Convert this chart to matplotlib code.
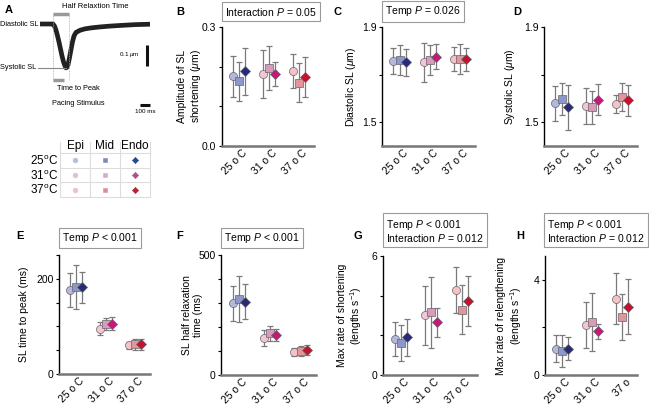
import matplotlib.pyplot as plt
import numpy as np

plt.rcParams['font.family'] = ['Liberation Sans', 'DejaVu Sans']
plt.rcParams['mathtext.fontset'] = 'custom'
plt.rcParams['mathtext.rm'] = 'Liberation Sans'
plt.rcParams['mathtext.it'] = 'Liberation Sans:italic'

temps = ['25 o C', '31 o C', '37 o C']
regions = ['Epi', 'Mid', 'Endo']

# mean and sd, rows = temperature (25, 31, 37), cols = Epi, Mid, Endo
amp_mean = [[0.176, 0.163, 0.188], [0.182, 0.197, 0.182], [0.190, 0.160, 0.174]]
amp_sd = [[0.052, 0.049, 0.060], [0.060, 0.055, 0.030], [0.043, 0.048, 0.051]]
dia_mean = [[1.757, 1.762, 1.751], [1.751, 1.760, 1.776], [1.767, 1.765, 1.765]]
dia_sd = [[0.055, 0.062, 0.058], [0.083, 0.063, 0.052], [0.050, 0.064, 0.048]]
sys_mean = [[1.580, 1.597, 1.563], [1.569, 1.563, 1.594], [1.576, 1.604, 1.593]]
sys_sd = [[0.073, 0.068, 0.094], [0.075, 0.070, 0.065], [0.039, 0.059, 0.065]]
ttp_mean = [[177, 182, 182], [95, 105, 106], [60, 62, 62]]
ttp_sd = [[36, 46, 33], [14, 13, 13], [8, 12, 11]]
half_mean = [[298, 317, 306], [155, 173, 165], [96, 101, 104]]
half_sd = [[71, 97, 73], [33, 30, 25], [15, 20, 21]]
vshort_mean = [[1.82, 1.61, 1.90], [3.01, 3.16, 2.67], [4.29, 3.29, 3.73]]
vshort_sd = [[0.85, 0.92, 0.92], [1.48, 1.78, 0.73], [1.16, 1.24, 1.28]]
vrel_mean = [[1.11, 1.00, 1.11], [2.10, 2.23, 1.83], [3.21, 2.44, 2.87]]
vrel_sd = [[0.56, 0.66, 0.49], [0.95, 1.22, 0.33], [1.07, 0.97, 1.15]]

# schematic sarcomere length transient (ms, um)
trace_t = [0, 130, 145, 160, 175, 190, 205, 220, 235, 250, 260, 270, 280, 295,
           310, 325, 340, 360, 400, 450, 520, 600, 700, 800, 950, 1100]
trace_sl = [1.800, 1.800, 1.790, 1.771, 1.744, 1.714, 1.681, 1.648, 1.620, 1.600,
            1.591, 1.594, 1.605, 1.640, 1.678, 1.715, 1.743, 1.760, 1.770, 1.777,
            1.782, 1.786, 1.790, 1.793, 1.797, 1.799]
t_stim = 130
t_half = 290

colors = [['#b4b8dc', '#8d97c9', '#262a78'],
          ['#f3c6d6', '#d99abb', '#c8167a'],
          ['#f5c2ca', '#e2959a', '#c8102e']]
legend_colors = [['#b9bdd9', '#8088b8', '#2c4a8a'],
                 ['#dcc3d3', '#d3abca', '#b05088'],
                 ['#eac2ca', '#d98f9a', '#b02838']]
markers = ['o', 's', 'D']
msizes = [5.8, 5.2, 5.2]

W, H = 649, 405
fig = plt.figure(figsize=(6.49, 4.05), dpi=100)


def rect(x0, y0, x1, y1):
    return [x0 / W, 1 - y1 / H, (x1 - x0) / W, (y1 - y0) / H]


def panel(box, mean, sd, ylim, ticks, labels, ylabel, lab_x, xlabels=temps):
    ax = fig.add_axes(rect(*box))
    mean = np.array(mean)
    sd = np.array(sd)
    for i in range(3):
        for j in range(3):
            x = i + 1 + (j - 1) * 0.2
            ax.errorbar(x, mean[i, j], yerr=sd[i, j], fmt='none',
                        ecolor='#7a7a7a', elinewidth=0.9, capsize=2.5,
                        capthick=0.9, zorder=2)
            ax.plot(x, mean[i, j], marker=markers[j], ms=msizes[j],
                    mfc=colors[i][j], mec='#666666', mew=0.5, zorder=3)
    ax.set_xlim(0.42, 3.5)
    ax.set_ylim(*ylim)
    ax.set_yticks(ticks)
    ax.set_yticklabels(labels, fontsize=7.5)
    ax.set_xticks([1.1, 2.1, 3.1])
    ax.set_xticklabels(xlabels, rotation=45, ha='right',
                       rotation_mode='anchor', fontsize=7.5)
    ax.tick_params(axis='x', length=0, pad=1.5)
    ax.tick_params(axis='y', length=2.5, width=0.8, pad=1.5)
    for s in ['top', 'right']:
        ax.spines[s].set_visible(False)
    ax.spines['left'].set_linewidth(1.0)
    ax.spines['bottom'].set_linewidth(1.8)
    ax.spines['bottom'].set_color('#777777')
    ax.set_ylabel(ylabel, fontsize=7.5, linespacing=1.15)
    ax.yaxis.set_label_coords(-lab_x, 0.5)
    return ax


panel((222, 27, 314, 146), amp_mean, amp_sd, (0, 0.3), [0, 0.1, 0.2, 0.3],
      ['0.0', '', '', '0.3'], 'Amplitude of SL\nshortening ($\\mu$m)', 0.21)
panel((382, 27, 475, 146), dia_mean, dia_sd, (1.4, 1.9), [1.5, 1.7, 1.9],
      ['1.5', '', '1.9'], 'Diastolic SL ($\\mu$m)', 0.26)
panel((544, 27, 637, 146), sys_mean, sys_sd, (1.4, 1.9), [1.5, 1.7, 1.9],
      ['1.5', '', '1.9'], 'Systolic SL ($\\mu$m)', 0.29)
panel((59, 255, 150, 374), ttp_mean, ttp_sd, (0, 250), [0, 50, 100, 150, 200, 250],
      ['0', '', '', '', '200', ''], 'SL time to peak (ms)', 0.33)
panel((221, 255, 316, 375), half_mean, half_sd, (0, 500), [0, 100, 200, 300, 400, 500],
      ['0', '', '', '', '', '500'], 'SL half relaxation\ntime (ms)', 0.19)
panel((383, 256, 477, 375), vshort_mean, vshort_sd, (0, 6), [0, 2, 4, 6],
      ['0', '', '', '6'], 'Max rate of shortening\n(lengths s$^{-1}$)', 0.20)
panel((545, 256, 637, 375), vrel_mean, vrel_sd, (0, 5), [0, 2, 4],
      ['0', '', '4'], 'Max rate of relengthening\n(lengths s$^{-1}$)', 0.23,
      xlabels=['25 o C', '31 o C', '37 o'])

# panel letters and stats boxes
for letter, x, y in [('A', 5, 10), ('B', 176, 12), ('C', 333, 12), ('D', 513, 12),
                     ('E', 16, 236), ('F', 176, 236), ('G', 353, 236), ('H', 516, 236)]:
    fig.text(x / W, 1 - y / H, letter, fontsize=8, fontweight='bold', va='center')

box_style = dict(boxstyle='square,pad=0.3', fc='white', ec='#9a9a9a', lw=0.8)
for txt, x, y in [('Interaction $P$ = 0.05', 225, 11.5),
                  ('Temp $P$ = 0.026', 385, 11.5),
                  ('Temp $P$ < 0.001', 62, 238),
                  ('Temp $P$ < 0.001', 224, 238),
                  ('Temp $P$ < 0.001\nInteraction $P$ = 0.012', 386, 231),
                  ('Temp $P$ < 0.001\nInteraction $P$ = 0.012', 547, 231)]:
    fig.text(x / W, 1 - y / H, txt, fontsize=7.5, va='center', ha='left',
             linespacing=1.0, bbox=box_style)

# panel A: schematic trace (x: ms, y: um)
axA = fig.add_axes(rect(0, 0, 160, 120))
axA.set_xlim(-400, 1200)
axA.set_ylim(1.80 - 96 / 210, 1.80 + 24 / 210)
axA.axis('off')
axA.plot(trace_t, trace_sl, color='#222222', lw=3.4, solid_capstyle='butt',
         solid_joinstyle='round')
sl_dia = trace_sl[0]
i_pk = int(np.argmin(trace_sl))
t_peak, sl_sys = trace_t[i_pk], trace_sl[i_pk]
top = sl_dia + 0.048
low = sl_sys - 0.06
axA.plot([t_stim, t_half], [top, top], color='#999999', lw=2.5, solid_capstyle='butt')
axA.plot([t_stim, t_peak - 20], [low, low], color='#999999', lw=2.5, solid_capstyle='butt')
for t in [t_stim, t_half]:
    axA.plot([t, t], [top, low], color='#aaaaaa', lw=0.6, ls=(0, (1, 1)))
axA.plot([-20, t_peak], [sl_sys, sl_sys], color='#888888', lw=0.8)
axA.text(-400, sl_dia, 'Diastolic SL', fontsize=5.3, va='center', ha='left')
axA.text(-400, sl_sys, 'Systolic SL', fontsize=5.3, va='center', ha='left')
axA.text(220, sl_dia + 0.085, 'Half Relaxtion Time', fontsize=5.5, va='center')
axA.text(170, low - 0.04, 'Time to Peak', fontsize=5.3, va='center')
axA.text(120, low - 0.11, 'Pacing Stimulus', fontsize=5.3, va='center')
# scale bars: 0.1 um and 100 ms
axA.plot([1070, 1070], [1.70, 1.60], color='#111111', lw=2.2, solid_capstyle='butt')
axA.text(1000, 1.655, '0.1 $\\mu$m', fontsize=4.5, ha='right', va='center')
axA.plot([1000, 1100], [1.415, 1.415], color='#111111', lw=2.2, solid_capstyle='butt')
axA.text(1050, 1.385, '100 ms', fontsize=4.5, ha='center', va='center')

# legend table
axT = fig.add_axes(rect(60, 153, 150, 197))
axT.set_xlim(0, 3)
axT.set_ylim(3, 0)
axT.axis('off')
for k in range(4):
    axT.plot([0, 3], [k, k], color='#dddddd', lw=0.8, clip_on=False)
    axT.plot([k, k], [-0.75, 3], color='#dddddd', lw=0.8, clip_on=False)
for j, reg in enumerate(regions):
    axT.text(j + 0.5, -0.08, reg, fontsize=8.5, ha='center', va='bottom')
for i, tl in enumerate(['25', '31', '37']):
    axT.text(-0.06, i + 0.55, tl + '$^{\\mathrm{o}}$C', fontsize=8.5, ha='right',
             va='center')
    for j in range(3):
        axT.plot(j + 0.5, i + 0.5, marker=markers[j], ms=3.5 if j < 2 else 3.2,
                 mfc=legend_colors[i][j], mec=legend_colors[i][j], mew=0.4,
                 clip_on=False)

plt.savefig('out.png', dpi=100)
